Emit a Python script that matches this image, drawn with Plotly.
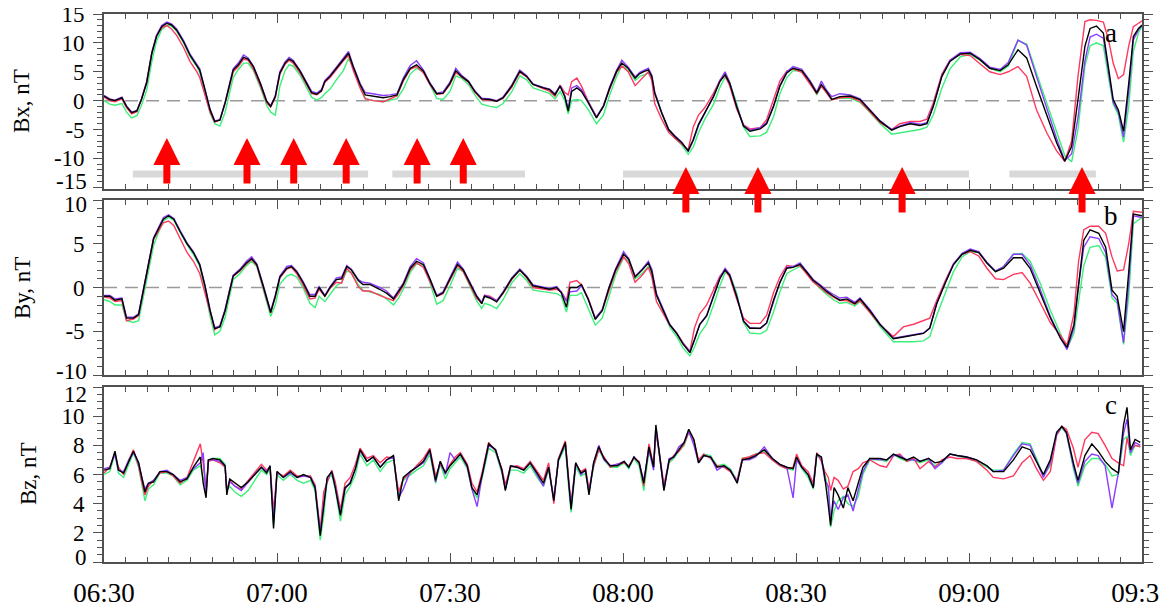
import plotly.graph_objects as go

# ---------------- data (minutes after 06:30) ----------------
TICK_MIN = [0, 30, 60, 90, 120, 150, 180]
TICK_TXT = ["06:30", "07:00", "07:30", "08:00", "08:30", "09:00", "09:30"]

# Panel a : Bx
TA = [0, 1.0, 1.9, 3.1, 3.9, 4.8, 5.7, 6.5, 7.4, 8.3,
      9.1, 10.0, 10.9, 11.7, 12.6, 13.8, 14.9, 16.1, 16.6, 17.5,
      18.4, 19.2, 20.1, 21.0, 21.8, 22.4, 23.3, 24.2, 25.0, 25.9,
      27.1, 28.2, 28.9, 29.7, 30.5, 31.4, 32.1, 32.8, 34.0, 35.1,
      36.0, 36.9, 37.7, 38.3, 39.2, 40.3, 41.5, 42.4, 43.2, 44.4,
      45.3, 46.7, 48.4, 49.6, 50.8, 51.9, 53.1, 54.2, 55.4, 56.5,
      57.7, 58.8, 60.0, 61.0, 62.0, 63.2, 64.3, 65.5, 66.9, 68.1,
      69.2, 70.7, 72.1, 73.3, 74.4, 76.2, 77.3, 78.2, 79.1, 79.9,
      80.5, 81.1, 82.0, 82.8, 84.0, 85.4, 86.6, 87.7, 88.9, 89.8,
      90.9, 92.1, 92.9, 93.8, 94.4, 95.0, 95.5, 96.7, 97.9, 99.0,
      100.2, 101.3, 102.2, 103.1, 104.2, 105.7, 106.8, 107.7, 108.5, 109.7,
      110.9, 112.0, 113.8, 114.9, 116.1, 117.2, 118.4, 119.5, 121.0, 122.4,
      123.6, 124.4, 125.3, 126.2, 127.6, 129.4, 131.1, 132.8, 134.6, 136.6,
      138.0, 139.8, 141.5, 142.7, 143.8, 145.3, 146.7, 148.5, 150.2, 151.9,
      153.6, 155.4, 156.8, 158.5, 160.0, 161.7, 163.5, 165.2, 166.6, 167.8,
      168.9, 170.1, 171.0, 172.1, 173.3, 174.2, 175.0, 175.9, 176.8, 177.7,
      178.5, 179.4, 180.0]
BX_BLACK = [0.8, 0.2, 0.0, 0.5, -1.0, -2.1, -1.8, 0.2, 3.1, 8.2,
            11.1, 12.8, 13.4, 13.1, 12.2, 10.2, 7.9, 6.2, 5.3, 1.9,
            -1.6, -3.6, -3.4, -0.4, 3.1, 5.3, 6.2, 7.5, 7.2, 5.9,
            3.0, -0.1, -1.0, 0.7, 4.8, 6.5, 7.2, 6.8, 5.1, 3.1,
            1.4, 1.1, 1.7, 3.3, 4.2, 5.6, 7.1, 8.2, 5.9, 2.8,
            1.0, 0.8, 0.5, 0.7, 1.0, 3.6, 5.6, 6.2, 5.1, 3.0,
            1.2, 1.3, 3.0, 5.2, 4.2, 3.3, 1.6, 0.3, 0.2, -0.1,
            0.5, 2.5, 5.1, 4.2, 2.8, 2.2, 1.9, 1.0, 2.5, 0.7,
            -1.8, 1.6, 2.2, 1.6, -0.4, -3.0, -1.0, 2.2, 5.1, 6.5,
            5.6, 3.9, 4.7, 5.1, 5.3, 4.2, 1.3, -2.1, -5.0, -6.2,
            -7.3, -8.7, -6.7, -4.1, -2.1, 0.7, 3.3, 4.5, 3.0, -1.0,
            -4.4, -5.3, -4.9, -4.0, -1.0, 2.5, 4.8, 5.6, 5.2, 3.3,
            1.3, 2.8, 1.6, 0.2, 0.7, 0.8, 0.2, -1.6, -3.6, -5.1,
            -4.5, -4.0, -4.3, -4.0, -1.0, 4.2, 6.8, 8.1, 8.2, 7.1,
            5.6, 5.2, 6.2, 8.8, 7.4, 2.5, -2.7, -7.3, -10.5, -7.9,
            0.2, 9.4, 12.5, 12.9, 11.7, 5.3, 0.2, -1.6, -5.3, 3.0,
            11.1, 12.5, 13.1]
BX_RED = [0.6, 0.0, -0.2, 0.3, -1.2, -2.3, -1.9, 0.3, 3.3, 8.4,
          11.2, 12.6, 13.0, 12.4, 11.3, 9.2, 6.8, 5.0, 4.0, 0.9,
          -2.0, -3.7, -3.3, -0.5, 2.9, 5.0, 5.9, 7.2, 7.0, 5.5,
          2.6, -0.4, -1.1, 0.5, 4.6, 6.3, 7.0, 6.5, 4.8, 2.8,
          1.2, 1.0, 1.6, 3.2, 4.0, 5.4, 6.9, 7.8, 5.3, 2.2,
          0.3, 0.0, -0.2, 0.3, 0.8, 3.4, 5.4, 5.9, 4.8, 2.8,
          1.1, 1.2, 2.8, 4.9, 4.1, 3.2, 1.5, 0.2, 0.1, -0.1,
          0.4, 2.3, 4.9, 4.1, 2.8, 2.0, 1.6, 0.8, 2.7, 1.4,
          1.0, 3.3, 3.9, 2.5, -0.2, -2.8, -1.0, 2.0, 4.9, 6.0,
          5.0, 2.6, 3.5, 4.5, 5.0, 3.5, -0.5, -3.2, -5.5, -6.5,
          -7.5, -8.5, -4.5, -2.5, -1.2, 1.3, 3.5, 4.3, 2.6, -1.4,
          -4.2, -4.9, -4.7, -3.3, 0.2, 3.4, 5.1, 5.5, 4.9, 3.0,
          1.2, 2.5, 1.3, 0.1, 0.5, 0.6, -0.1, -1.9, -3.8, -5.0,
          -4.0, -3.6, -3.6, -3.2, -0.4, 4.6, 7.0, 8.0, 7.8, 6.4,
          5.0, 4.5, 5.0, 5.9, 4.2, -1.6, -5.6, -8.7, -10.5, -7.0,
          4.2, 13.7, 14.0, 13.9, 13.6, 10.5, 6.5, 3.8, 4.5, 9.5,
          12.8, 13.4, 13.8]
BX_GREEN = [0.0, -0.6, -0.8, -0.5, -2.0, -3.0, -2.6, -0.8, 1.8, 6.8,
            10.3, 12.3, 13.0, 12.9, 12.0, 10.0, 7.6, 5.9, 4.8, 1.4,
            -2.2, -4.0, -4.4, -2.0, 1.5, 4.0, 5.4, 6.5, 6.5, 5.2,
            2.3, -0.8, -2.0, -2.5, 2.5, 5.2, 6.2, 6.0, 4.4, 2.3,
            0.6, 0.1, 0.5, 1.2, 2.0, 3.6, 5.2, 7.3, 5.8, 2.4,
            0.4, 0.0, -0.2, 0.1, 0.3, 2.0, 4.6, 5.6, 5.0, 2.8,
            0.4, 0.2, 1.6, 4.3, 3.9, 2.8, 1.0, -0.6, -1.0, -1.2,
            -0.5, 1.5, 4.3, 3.6, 2.2, 1.6, 1.2, 0.3, 1.6, 0.0,
            -2.3, 0.0, 0.2, 0.0, -1.6, -4.0, -2.5, 1.0, 4.2, 6.0,
            5.4, 3.5, 4.2, 4.5, 4.8, 3.8, 1.2, -2.2, -5.2, -6.5,
            -7.7, -9.3, -8.0, -5.5, -3.2, -0.6, 2.3, 4.0, 3.1, -0.4,
            -4.6, -6.2, -6.1, -5.5, -2.8, 1.2, 4.0, 5.2, 5.1, 3.4,
            1.0, 2.5, 1.5, 0.2, 0.4, 0.4, -0.3, -2.0, -4.0, -5.8,
            -5.6, -5.3, -5.0, -4.6, -2.5, 2.2, 5.5, 7.6, 8.0, 7.0,
            5.6, 5.0, 6.0, 10.4, 9.8, 4.8, -0.5, -5.5, -9.5, -10.6,
            -5.0, 6.0, 9.5, 10.0, 9.5, 4.0, -0.6, -2.5, -7.2, -1.0,
            8.5, 11.8, 12.8]
BX_PURPLE = [0.9, 0.3, 0.1, 0.6, -0.9, -2.0, -1.7, 0.3, 3.2, 8.3,
             11.3, 13.0, 13.6, 13.3, 12.4, 10.4, 8.1, 6.4, 5.5, 2.0,
             -1.5, -3.5, -3.3, -0.3, 3.2, 5.5, 6.5, 7.9, 7.4, 6.0,
             3.1, 0.0, -0.9, 0.8, 5.0, 6.7, 7.5, 7.0, 5.2, 3.2,
             1.6, 1.3, 1.9, 3.5, 4.4, 5.8, 7.4, 8.5, 6.1, 3.0,
             1.4, 1.2, 0.9, 1.0, 1.2, 3.9, 6.1, 6.9, 5.3, 3.1,
             1.3, 1.5, 3.2, 5.6, 4.4, 3.4, 1.7, 0.4, 0.3, 0.0,
             0.6, 2.7, 5.3, 4.3, 2.9, 2.3, 2.0, 1.2, 2.6, 0.9,
             -1.4, 2.2, 2.6, 1.9, -0.3, -2.8, -0.9, 2.4, 5.3, 7.0,
             5.8, 4.1, 4.9, 5.4, 5.6, 4.4, 1.5, -2.0, -4.9, -6.1,
             -7.2, -8.8, -6.9, -4.3, -2.2, 0.8, 3.5, 5.0, 3.2, -0.9,
             -4.3, -5.1, -4.7, -3.8, -0.9, 2.6, 5.0, 5.9, 5.4, 3.5,
             1.5, 3.4, 1.8, 0.7, 1.2, 1.0, 0.3, -1.5, -3.5, -5.0,
             -4.4, -3.8, -4.1, -3.8, -0.9, 4.3, 7.0, 8.3, 8.4, 7.3,
             5.8, 5.4, 6.6, 10.5, 9.6, 4.2, -1.5, -6.6, -10.4, -9.2,
             -3.0, 6.9, 11.0, 11.5, 10.8, 4.5, -0.3, -2.0, -6.3, 1.5,
             10.5, 12.3, 13.0]

# Panel b : By
TB = [0, 1.0, 1.9, 3.1, 3.9, 5.1, 6.0, 6.8, 7.7, 8.6,
      9.5, 10.3, 11.2, 12.1, 13.2, 14.4, 15.5, 16.6, 17.5, 18.4,
      19.2, 20.1, 21.0, 21.8, 22.4, 23.6, 24.7, 25.6, 26.5, 27.6,
      28.5, 28.9, 29.7, 30.5, 31.7, 32.5, 33.4, 34.5, 35.7, 36.6,
      37.3, 38.3, 39.2, 40.3, 41.2, 42.1, 42.9, 44.1, 44.9, 46.1,
      47.8, 49.0, 50.2, 51.1, 51.9, 53.1, 54.2, 55.4, 56.5, 57.7,
      58.8, 60.0, 61.3, 62.3, 63.4, 64.6, 65.5, 66.0, 66.9, 68.1,
      69.2, 70.7, 72.1, 73.3, 74.4, 76.2, 77.3, 78.5, 79.3, 80.2,
      80.8, 82.0, 82.8, 84.0, 85.2, 86.4, 87.5, 88.7, 90.1, 91.0,
      92.1, 93.3, 94.4, 95.0, 95.8, 97.0, 98.1, 99.3, 100.4, 101.6,
      102.4, 103.3, 104.5, 105.7, 106.8, 107.7, 108.5, 109.7, 110.9, 112.0,
      113.8, 114.9, 116.1, 117.2, 118.4, 119.5, 120.7, 121.8, 123.0, 124.2,
      125.3, 126.5, 127.6, 128.8, 130.2, 131.1, 132.8, 134.6, 136.9, 138.6,
      140.4, 142.1, 143.2, 144.4, 145.9, 147.3, 148.8, 150.2, 151.7, 153.1,
      154.6, 156.0, 157.7, 159.2, 160.6, 162.4, 164.1, 165.9, 167.0, 168.2,
      169.0, 169.9, 171.0, 172.5, 173.7, 174.8, 175.7, 176.8, 177.7, 178.5,
      180.0]
BY_BLACK = [-1.0, -1.0, -1.45, -1.3, -3.5, -3.5, -3.1, -0.2, 2.6, 5.6,
            6.8, 7.8, 8.2, 7.8, 6.4, 5.0, 4.0, 2.6, 0.2, -2.65,
            -4.7, -4.5, -2.65, -0.2, 1.3, 2.0, 2.8, 3.3, 2.6, 0.2,
            -1.85, -2.85, -1.0, 1.2, 2.2, 2.4, 1.8, 0.6, -1.0, -1.0,
            0.0, -1.0, 0.0, 0.9, 1.0, 2.4, 2.0, 0.8, 0.35, 0.35,
            -0.2, -0.65, -1.3, -0.45, 0.35, 2.2, 3.0, 2.6, 1.0, -1.0,
            -0.6, 1.0, 2.65, 2.0, 0.55, -1.0, -1.85, -1.0, -1.2, -1.65,
            -0.6, 1.0, 2.0, 1.2, 0.2, 0.0, -0.2, 0.0, -0.6, -2.25,
            0.0, 0.0, 0.35, -1.4, -3.65, -2.65, -0.2, 2.0, 3.8, 3.2,
            1.2, 2.0, 2.8, 1.8, -0.85, -2.65, -4.25, -5.25, -6.45, -7.45,
            -6.05, -4.25, -3.25, -1.0, 1.0, 2.0, 1.4, -1.0, -3.85, -4.65,
            -4.65, -4.05, -1.45, 0.55, 2.2, 2.3, 2.65, 1.8, 0.8, 0.2,
            -0.45, -1.0, -1.45, -1.3, -1.85, -1.3, -2.65, -4.25, -5.85, -5.65,
            -5.45, -5.25, -4.65, -1.85, 0.55, 2.6, 3.8, 4.25, 4.0, 2.8,
            1.8, 2.2, 3.4, 3.4, 2.2, -0.6, -3.45, -5.85, -6.85, -4.25,
            0.55, 5.4, 6.6, 6.2, 4.6, -0.3, -1.0, -5.05, 1.8, 8.4,
            8.2]
BY_RED = [-1.1, -1.2, -1.6, -1.5, -3.8, -3.6, -3.2, -0.3, 2.5, 5.5,
          6.6, 7.4, 7.6, 7.1, 5.6, 4.0, 3.0, 1.6, -0.6, -3.0,
          -4.8, -4.4, -2.6, -0.2, 1.3, 1.9, 2.7, 3.2, 2.5, 0.0,
          -2.0, -2.9, -1.1, 1.1, 2.1, 2.3, 1.6, 0.3, -1.3, -1.2,
          -0.2, -1.0, -0.1, 0.6, 0.5, 2.2, 1.6, 0.1, -0.4, -0.4,
          -0.9, -1.2, -1.5, -0.7, 0.2, 2.0, 2.8, 2.3, 0.7, -1.0,
          -0.7, 0.8, 2.5, 1.8, 0.3, -1.2, -1.8, -0.9, -1.0, -1.5,
          -0.7, 0.9, 2.0, 1.1, 0.0, -0.2, -0.3, -0.2, -0.5, -1.5,
          0.6, 0.8, 0.3, -1.3, -3.5, -2.6, -0.4, 1.8, 3.5, 2.7,
          0.6, 1.4, 2.3, 1.2, -1.6, -3.0, -4.3, -5.2, -6.3, -7.3,
          -4.6, -3.0, -2.0, -0.3, 1.3, 2.0, 1.2, -1.3, -3.5, -4.1,
          -4.1, -3.2, -0.6, 1.2, 2.5, 2.4, 2.5, 1.6, 0.6, 0.0,
          -0.6, -1.1, -1.5, -1.5, -1.9, -1.5, -2.8, -4.3, -5.6, -4.5,
          -4.2, -3.8, -3.5, -1.5, 0.8, 2.7, 3.8, 4.1, 3.6, 2.2,
          1.0, 0.9, 1.5, 1.7, 0.5, -1.8, -4.0, -5.5, -6.6, -3.0,
          3.0, 6.6, 7.0, 7.0, 6.2, 3.5, 1.9, 2.0, 5.0, 8.7,
          8.6]
BY_GREEN = [-1.4, -1.6, -2.0, -2.0, -3.8, -4.0, -3.8, -1.2, 1.6, 4.8,
            6.4, 7.6, 8.0, 7.7, 6.3, 4.9, 3.8, 2.4, -0.2, -3.3,
            -5.4, -5.0, -3.4, -0.8, 0.9, 1.6, 2.5, 3.0, 2.4, -0.2,
            -2.5, -3.3, -2.0, 0.4, 1.3, 1.5, 1.2, 0.0, -1.8, -2.3,
            -1.0, -1.6, -0.8, 0.2, 0.6, 1.9, 1.7, 0.3, -0.3, -0.5,
            -0.8, -1.3, -2.0, -1.2, -0.2, 1.7, 2.7, 2.5, 0.6, -1.9,
            -1.5, 0.2, 2.2, 1.8, 0.2, -1.5, -2.4, -1.8, -2.0, -2.4,
            -1.4, 0.5, 1.6, 0.8, -0.3, -0.5, -0.6, -0.7, -1.0, -2.8,
            -0.9, -0.9, -0.6, -2.4, -4.3, -3.5, -1.2, 1.4, 3.4, 3.0,
            1.0, 1.6, 2.4, 1.6, -0.9, -2.9, -4.5, -5.6, -6.9, -7.8,
            -6.8, -5.3, -4.2, -2.0, 0.2, 1.7, 1.5, -0.6, -4.0, -5.2,
            -5.3, -4.9, -2.8, -0.5, 1.6, 2.0, 2.4, 1.7, 0.7, -0.1,
            -0.8, -1.4, -1.8, -1.7, -2.1, -1.6, -2.8, -4.5, -6.2, -6.2,
            -6.2, -6.1, -5.6, -3.2, -0.6, 1.8, 3.5, 4.1, 4.0, 2.8,
            1.8, 2.4, 3.8, 3.9, 3.0, 0.4, -2.6, -5.3, -7.0, -5.2,
            -1.5, 2.5, 4.6, 4.8, 3.4, -1.2, -1.8, -6.5, -1.0, 7.3,
            8.0]
BY_PURPLE = [-0.9, -0.9, -1.3, -1.2, -3.4, -3.4, -3.0, -0.1, 2.7, 5.7,
             6.9, 8.0, 8.3, 7.9, 6.5, 5.1, 4.1, 2.7, 0.3, -2.6,
             -4.6, -4.4, -2.5, -0.1, 1.4, 2.1, 3.0, 3.5, 2.7, 0.3,
             -1.7, -2.7, -0.9, 1.3, 2.4, 2.5, 1.9, 0.7, -0.8, -0.8,
             0.1, -0.9, 0.1, 1.1, 1.2, 2.5, 2.1, 0.9, 0.6, 0.5,
             0.0, -0.4, -1.2, -0.3, 0.5, 2.4, 3.3, 2.8, 1.1, -0.9,
             -0.5, 1.1, 2.9, 2.1, 0.6, -0.9, -1.7, -0.9, -1.1, -1.5,
             -0.5, 1.1, 2.1, 1.3, 0.3, 0.1, -0.1, 0.1, -0.5, -1.6,
             -0.5, -0.4, 0.2, -1.4, -3.5, -2.5, -0.1, 2.1, 4.1, 3.3,
             1.3, 2.1, 3.0, 2.1, -0.7, -2.5, -4.2, -5.2, -6.4, -7.3,
             -6.0, -4.2, -3.2, -0.9, 1.1, 2.2, 1.5, -0.9, -3.8, -4.6,
             -4.7, -4.1, -1.5, 0.6, 2.3, 2.4, 2.8, 1.9, 0.9, 0.3,
             -0.3, -0.8, -1.2, -1.1, -1.7, -1.2, -2.5, -4.2, -5.8, -5.6,
             -5.4, -5.2, -4.6, -1.8, 0.6, 2.7, 3.9, 4.4, 4.1, 2.9,
             1.9, 2.4, 3.8, 3.8, 2.6, -0.3, -3.3, -5.8, -7.1, -4.6,
             0.2, 4.6, 5.8, 5.6, 4.0, -0.8, -1.5, -6.3, 0.5, 8.2,
             8.0]

# Panel c : Bz
TC = [0, 1.0, 1.9, 2.5, 3.4, 4.3, 5.1, 6.0, 6.5, 7.1,
      7.7, 8.6, 9.7, 10.9, 12.0, 13.2, 14.4, 15.5, 16.7, 17.2,
      17.7, 18.1, 18.9, 20.1, 21.0, 21.3, 21.8, 22.7, 23.8, 25.0,
      26.1, 27.3, 28.2, 28.8, 29.4, 30.0, 31.1, 32.3, 33.5, 34.6,
      35.8, 36.6, 37.5, 38.1, 38.7, 39.5, 40.1, 41.0, 41.8, 42.7,
      43.6, 44.4, 45.6, 46.7, 47.9, 49.0, 50.2, 51.1, 51.9, 53.1,
      54.2, 55.4, 56.5, 57.5, 58.3, 59.2, 60.0, 60.9, 61.8, 63.0,
      63.8, 64.7, 65.6, 66.7, 67.9, 69.0, 69.6, 70.5, 71.6, 72.8,
      73.9, 75.1, 76.2, 77.1, 78.0, 78.8, 80.0, 80.6, 81.0, 81.8,
      82.7, 83.5, 84.1, 84.9, 85.8, 86.7, 87.8, 89.0, 90.2, 91.0,
      91.9, 92.8, 93.6, 94.5, 95.3, 95.7, 96.2, 97.1, 98.0, 98.8,
      99.7, 100.6, 101.4, 102.3, 103.1, 104.0, 105.2, 106.3, 107.5, 108.6,
      109.8, 110.7, 111.9, 113.0, 114.5, 115.9, 117.2, 118.4, 119.5, 120.1,
      121.0, 122.1, 123.0, 123.6, 124.4, 125.0, 125.6, 126.0, 126.6, 127.3,
      128.2, 129.0, 129.9, 130.8, 131.6, 132.8, 134.6, 135.7, 136.9, 138.0,
      139.2, 140.4, 141.5, 143.0, 144.1, 145.3, 146.7, 147.9, 149.6, 151.3,
      153.1, 154.2, 156.0, 157.7, 159.2, 160.6, 161.7, 162.9, 164.1, 165.2,
      166.1, 166.9, 168.1, 168.9, 170.1, 171.3, 172.4, 173.6, 174.8, 175.9,
      176.8, 177.4, 178.0, 178.8, 179.7]
BZ_BLACK = [6.3, 6.4, 7.6, 6.3, 6.1, 6.9, 7.6, 6.8, 5.8, 4.8,
            5.4, 5.5, 6.2, 6.2, 6.0, 5.5, 5.7, 6.5, 7.2, 5.4,
            4.4, 7.0, 7.1, 7.0, 6.6, 4.6, 5.7, 5.4, 5.1, 5.5,
            6.0, 6.5, 6.1, 6.6, 2.3, 6.2, 5.8, 6.2, 5.8, 6.0,
            5.8, 5.1, 1.8, 3.9, 5.8, 6.2, 5.1, 3.2, 5.1, 5.4,
            6.4, 7.7, 6.9, 7.2, 6.5, 7.0, 7.3, 4.2, 5.8, 6.2,
            6.5, 6.9, 7.7, 5.6, 6.9, 6.1, 6.6, 7.0, 7.4, 6.6,
            5.1, 4.6, 6.0, 8.1, 7.7, 6.3, 4.9, 6.6, 6.5, 6.3,
            6.8, 6.1, 5.4, 6.5, 4.2, 7.0, 8.2, 5.4, 3.6, 6.8,
            6.1, 6.3, 4.6, 6.8, 7.9, 7.1, 6.6, 6.6, 6.9, 6.5,
            7.2, 6.8, 5.4, 7.9, 6.5, 9.4, 7.7, 4.9, 7.0, 7.2,
            7.7, 8.2, 9.1, 8.4, 6.8, 7.3, 7.2, 6.5, 6.6, 6.3,
            5.4, 7.0, 7.1, 7.3, 7.7, 7.1, 6.7, 6.5, 6.4, 7.2,
            6.5, 6.0, 5.1, 7.4, 7.2, 5.8, 3.9, 2.5, 5.1, 4.6,
            3.7, 5.1, 4.2, 5.4, 6.5, 7.1, 7.1, 7.0, 7.4, 7.2,
            7.0, 7.2, 6.9, 7.1, 6.8, 6.9, 7.4, 7.3, 7.2, 7.0,
            6.6, 6.2, 6.2, 7.0, 7.9, 7.7, 6.9, 6.0, 7.0, 8.9,
            9.3, 8.9, 6.8, 5.6, 7.3, 8.1, 7.6, 6.9, 6.4, 6.1,
            9.4, 10.6, 7.7, 8.4, 8.2]
BZ_RED = [6.1, 6.5, 7.5, 6.5, 6.0, 7.0, 7.7, 6.6, 5.6, 4.6,
          5.2, 5.6, 6.1, 6.2, 5.9, 5.4, 5.8, 6.9, 8.1, 6.8,
          4.8, 6.9, 7.0, 6.8, 6.5, 4.9, 5.6, 5.2, 5.0, 5.6,
          6.1, 6.7, 6.3, 6.5, 3.5, 6.1, 5.9, 6.3, 5.9, 5.9,
          5.9, 5.3, 2.2, 4.8, 5.5, 6.3, 5.5, 3.6, 5.4, 5.8,
          6.7, 7.8, 7.1, 7.3, 6.8, 7.2, 7.1, 4.8, 5.7, 6.1,
          6.6, 7.1, 7.8, 5.9, 6.7, 6.2, 6.7, 7.2, 7.5, 6.7,
          5.4, 4.8, 6.2, 8.2, 7.6, 6.4, 5.3, 6.5, 6.6, 6.4,
          6.9, 6.2, 5.6, 6.8, 4.0, 7.1, 8.3, 5.6, 4.0, 6.7,
          6.2, 6.4, 5.0, 6.6, 7.7, 7.2, 6.5, 6.7, 6.8, 6.6,
          7.1, 6.9, 5.2, 8.1, 6.6, 8.8, 7.8, 5.3, 6.9, 7.3,
          7.6, 8.1, 8.9, 8.3, 7.0, 7.4, 7.1, 6.6, 6.5, 6.2,
          5.6, 7.1, 7.2, 7.4, 7.5, 7.0, 6.6, 6.4, 6.5, 7.4,
          6.6, 6.2, 5.4, 7.5, 6.9, 6.2, 5.8, 4.9, 5.8, 5.6,
          5.0, 5.2, 6.2, 6.4, 6.8, 7.0, 6.6, 6.5, 7.3, 7.4,
          6.9, 7.1, 6.4, 6.9, 6.5, 7.0, 7.2, 7.1, 7.1, 6.9,
          6.3, 5.8, 5.7, 5.9, 6.8, 7.3, 6.4, 5.6, 6.2, 8.7,
          9.3, 9.1, 7.8, 6.5, 8.4, 8.9, 8.8, 8.0, 7.1, 6.8,
          6.6, 8.5, 7.6, 8.0, 7.9]
BZ_GREEN = [6.0, 6.2, 7.4, 6.1, 5.8, 6.7, 7.5, 6.5, 5.5, 4.2,
            5.0, 5.3, 6.1, 6.1, 5.9, 5.3, 5.6, 6.3, 6.6, 5.8,
            5.0, 7.0, 7.1, 7.1, 6.7, 5.0, 5.2, 4.8, 4.5, 4.9,
            5.6, 6.3, 6.0, 6.4, 2.5, 6.0, 5.6, 6.0, 5.6, 5.4,
            5.6, 4.9, 1.5, 3.2, 5.6, 6.0, 5.0, 2.8, 4.6, 5.2,
            6.0, 7.4, 6.6, 7.0, 6.2, 6.8, 7.0, 4.5, 5.6, 6.0,
            6.3, 6.6, 7.4, 5.4, 6.7, 5.7, 6.4, 6.8, 7.2, 6.4,
            5.0, 4.4, 5.8, 7.8, 7.5, 6.1, 5.0, 6.3, 6.3, 6.1,
            6.6, 5.8, 5.2, 6.3, 4.4, 6.9, 7.9, 5.0, 3.4, 6.5,
            5.9, 6.1, 4.8, 6.5, 7.7, 7.0, 6.5, 6.5, 6.8, 6.4,
            7.1, 6.6, 4.9, 7.6, 6.5, 9.0, 7.6, 5.1, 6.8, 7.1,
            7.6, 8.0, 8.9, 8.2, 6.9, 7.4, 7.3, 6.6, 6.7, 6.4,
            5.6, 7.1, 7.2, 7.4, 7.6, 7.0, 6.6, 6.4, 6.3, 7.1,
            6.4, 5.8, 5.0, 7.3, 7.0, 6.0, 5.0, 2.4, 3.5, 4.2,
            4.5, 4.0, 3.8, 4.5, 6.0, 7.0, 7.0, 6.9, 7.4, 7.1,
            6.9, 7.0, 6.8, 7.0, 6.6, 6.8, 7.4, 7.3, 7.1, 6.9,
            6.5, 6.3, 6.3, 7.4, 8.2, 8.1, 7.1, 5.9, 6.6, 8.7,
            9.2, 8.8, 6.4, 5.2, 6.6, 7.1, 7.1, 6.7, 5.9, 6.0,
            8.4, 8.6, 7.3, 8.0, 7.9]
BZ_PURPLE = [6.4, 6.5, 7.4, 6.3, 6.2, 7.0, 7.5, 6.8, 5.9, 5.0,
             5.4, 5.6, 6.2, 6.3, 6.0, 5.6, 5.8, 6.4, 6.8, 7.5,
             4.6, 7.0, 7.0, 6.9, 6.6, 4.8, 5.5, 5.2, 4.9, 5.5,
             6.0, 6.5, 6.2, 6.6, 2.8, 6.2, 5.8, 6.1, 5.8, 5.9,
             5.8, 5.2, 2.0, 4.0, 5.7, 6.2, 5.2, 3.3, 5.0, 5.5,
             6.4, 7.6, 6.9, 7.2, 6.5, 7.0, 7.2, 4.4, 5.0, 6.2,
             6.5, 6.8, 7.6, 5.5, 6.9, 6.0, 7.5, 7.0, 7.4, 6.5,
             5.0, 3.8, 6.0, 8.0, 7.7, 6.2, 5.0, 6.6, 6.5, 6.3,
             6.8, 6.0, 5.2, 6.5, 4.3, 7.0, 8.1, 5.4, 3.8, 6.8,
             6.0, 6.3, 4.8, 6.8, 8.0, 7.0, 6.6, 6.7, 6.9, 6.5,
             7.2, 6.8, 5.6, 7.7, 6.3, 9.2, 7.6, 5.0, 7.1, 7.2,
             7.9, 8.2, 9.0, 8.0, 6.8, 7.3, 7.2, 6.3, 6.6, 6.3,
             5.5, 7.0, 7.0, 7.2, 7.9, 7.1, 6.7, 6.5, 4.4, 7.0,
             6.5, 6.0, 5.1, 7.4, 7.1, 5.6, 5.2, 2.9, 4.2, 3.6,
             4.4, 4.6, 3.5, 4.9, 6.2, 7.1, 7.0, 7.0, 7.3, 7.3,
             7.0, 7.0, 6.9, 7.1, 6.4, 6.8, 7.4, 7.3, 7.2, 7.0,
             6.6, 6.2, 6.3, 7.3, 8.1, 8.0, 7.0, 5.8, 6.8, 8.8,
             9.3, 8.8, 6.6, 5.4, 6.9, 7.4, 7.3, 6.6, 3.7, 6.1,
             8.8, 9.8, 7.5, 8.2, 8.0]

# gray interval bars in panel a (start, end minutes) and their level
BAR_START = [5.0, 50.0, 90.0, 157.0]
BAR_END = [45.8, 73.0, 150.0, 172.0]
BAR_LEVEL = -12.7
# red arrows (minutes): upper row and lower row
ARROWS_UP = [10.9, 24.8, 32.9, 42.0, 54.3, 62.3]
ARROWS_LOW = [100.9, 113.4, 138.4, 169.6]

# ---------------- figure ----------------
# The page body has an 8px margin, so the figure is laid out 8px up/left
# of the target page coordinates.
OFF = 8
W, H = 1167, 603
ML, MR, MT, MB = 104 - OFF, 25 + OFF, 14 - OFF, 41 + OFF
PW = W - ML - MR
PH = H - MT - MB


def py(pix):
    """page pixel (y, from top) -> paper fraction"""
    return (H - MB - (pix - OFF)) / PH


def px(pix):
    """page pixel (x) -> paper fraction"""
    return (pix - OFF - ML) / PW


FONT = "Liberation Serif"
AX_COL = "#505050"
COLORS = {"green": "#3df07a", "red": "#ff3860", "purple": "#8a3cff", "black": "#000000"}

fig = go.Figure()

panels = [
    ("x3", "y3", TA, {"green": BX_GREEN, "red": BX_RED, "purple": BX_PURPLE, "black": BX_BLACK}),
    ("x2", "y2", TB, {"green": BY_GREEN, "red": BY_RED, "purple": BY_PURPLE, "black": BY_BLACK}),
    ("x", "y", TC, {"green": BZ_GREEN, "red": BZ_RED, "purple": BZ_PURPLE, "black": BZ_BLACK}),
]
for xa, ya, t, series in panels:
    for name in ["green", "red", "purple", "black"]:
        fig.add_trace(go.Scatter(x=t, y=series[name], mode="lines", xaxis=xa, yaxis=ya,
                                 line=dict(color=COLORS[name], width=1.4),
                                 showlegend=False, hoverinfo="skip"))

xcommon = dict(range=[0, 180], tickvals=TICK_MIN, ticks="inside", ticklen=9, tickwidth=1.3,
               tickcolor=AX_COL, showline=True, linecolor=AX_COL, linewidth=1.6, mirror="ticks",
               showgrid=False, zeroline=False, automargin=False, ticklabeloverflow="allow",
               minor=dict(dtick=3.75, tick0=0, ticks="inside", ticklen=5, tickcolor=AX_COL, showgrid=False))
ycommon = dict(ticks="outside", ticklen=9, tickwidth=1.3, tickcolor=AX_COL, showline=True,
               linecolor=AX_COL, linewidth=1.6, mirror="ticks", showgrid=False, zeroline=False,
               automargin=False, ticklabeloverflow="allow",
               tickfont=dict(family=FONT, size=23, color="black"), ticklabelstandoff=4)

dom_a = [py(189), py(14)]
dom_b = [py(375), py(200)]
dom_c = [py(562), py(387)]

fig.update_layout(
    width=W, height=H, margin=dict(l=ML, r=MR, t=MT, b=MB, autoexpand=False),
    paper_bgcolor="white", plot_bgcolor="white", showlegend=False,
    xaxis=dict(anchor="y", ticktext=TICK_TXT, showticklabels=True,
               tickfont=dict(family=FONT, size=27, color="black"), ticklabelstandoff=6, **xcommon),
    xaxis2=dict(anchor="y2", matches="x", showticklabels=False, **xcommon),
    xaxis3=dict(anchor="y3", matches="x", showticklabels=False, **xcommon),
    yaxis=dict(anchor="x", domain=dom_c, range=[0, 12], tickvals=[0, 2, 4, 6, 8, 10, 12],
               ticktext=["", "2", "4", "6", "8", "10", ""],
               minor=dict(dtick=0.5, ticks="outside", ticklen=5, tickcolor=AX_COL, showgrid=False), **ycommon),
    yaxis2=dict(anchor="x2", domain=dom_b, range=[-10, 10], tickvals=[-10, -5, 0, 5, 10],
                ticktext=["", "-5", "0", "5", ""],
                minor=dict(dtick=1, ticks="outside", ticklen=5, tickcolor=AX_COL, showgrid=False), **ycommon),
    yaxis3=dict(anchor="x3", domain=dom_a, range=[-15.3, 15], tickvals=[-15, -10, -5, 0, 5, 10, 15],
                ticktext=["", "-10", "-5", "0", "5", "10", "15"],
                minor=dict(dtick=1, ticks="outside", ticklen=5, tickcolor=AX_COL, showgrid=False), **ycommon),
)

# zero dashed lines (panels a and b)
for xr, yr in [("x3", "y3"), ("x2", "y2")]:
    fig.add_shape(type="line", xref=xr, yref=yr, x0=0, x1=180, y0=0, y1=0, layer="below",
                  line=dict(color="#9a9a9a", width=1.5, dash="13px,8px"))

# gray interval bars
for s, e in zip(BAR_START, BAR_END):
    fig.add_shape(type="line", xref="x3", yref="y3", x0=s, x1=e, y0=BAR_LEVEL, y1=BAR_LEVEL,
                  line=dict(color="#d9d9d9", width=7))

ann = []
# end tick labels shifted inward (as in the original)
for yref, val, shift in [("y3", -15, 6), ("y2", 10, -4), ("y2", -10, 4), ("y", 12, -7), ("y", 0, 5)]:
    ann.append(dict(xref="paper", yref=yref, x=0, y=val, xanchor="right", yanchor="middle",
                    xshift=-15, yshift=shift, text=str(val), showarrow=False,
                    font=dict(family=FONT, size=23, color="black")))
# axis titles
for txt, ycen, xpix in [("Bx, nT", 101, 22), ("By, nT", 288, 22), ("Bz, nT", 474, 28)]:
    ann.append(dict(xref="paper", yref="paper", x=px(xpix), y=py(ycen),
                    xanchor="center", yanchor="middle", text=txt, textangle=-90, showarrow=False,
                    font=dict(family=FONT, size=23, color="black")))
# panel letters
for txt, ypix in [("a", 33), ("b", 216), ("c", 405)]:
    ann.append(dict(xref="paper", yref="paper", x=px(1111), y=py(ypix),
                    xanchor="center", yanchor="middle", text=txt, showarrow=False,
                    font=dict(family=FONT, size=27, color="black")))
# red arrows
for tmin in ARROWS_UP:
    ann.append(dict(xref="x3", yref="paper", x=tmin, y=py(138), ax=0, ay=47, text="",
                    showarrow=True, arrowhead=2, arrowwidth=7, arrowsize=0.77, arrowcolor="#ff0000"))
for tmin in ARROWS_LOW:
    ann.append(dict(xref="x3", yref="paper", x=tmin, y=py(167), ax=0, ay=47, text="",
                    showarrow=True, arrowhead=2, arrowwidth=7, arrowsize=0.77, arrowcolor="#ff0000"))
fig.update_layout(annotations=ann)

fig.write_html("out.html")
